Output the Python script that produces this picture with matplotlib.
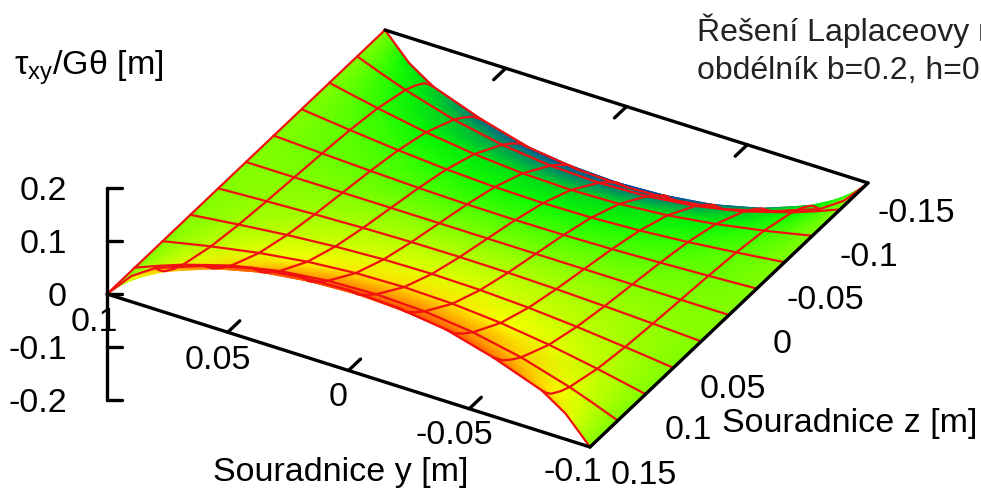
"""Torsion of a rectangular bar: shear stress surface drawn as a gnuplot-style view."""
import matplotlib
matplotlib.use("Agg")
import matplotlib.pyplot as plt
from matplotlib.colors import LinearSegmentedColormap
import numpy as np

y_vals = [0.1, 0.09, 0.08, 0.06, 0.04, 0.02, 0.0, -0.02, -0.04, -0.06, -0.08, -0.09, -0.1]
z_vals = [-0.15, -0.145, -0.14, -0.13, -0.12, -0.09, -0.06, -0.03, 0.0,
          0.03, 0.06, 0.09, 0.12, 0.13, 0.14, 0.145, 0.15]
# rows follow z_vals, columns follow y_vals
tau = [
    [0, -.048, -.078, -.111, -.136, -.148, -.152, -.148, -.136, -.111, -.078, -.048, 0],
    [0, -.0365, -.065, -.1, -.124, -.136, -.14, -.136, -.124, -.1, -.065, -.0365, 0],
    [0, -.0301, -.055, -.0891, -.111, -.1226, -.1268, -.1226, -.111, -.0891, -.055, -.0301, 0],
    [0, -.0226, -.043, -.0742, -.0944, -.1057, -.1094, -.1057, -.0944, -.0742, -.043, -.0226, 0],
    [0, -.0178, -.0345, -.0616, -.0801, -.0906, -.094, -.0906, -.0801, -.0616, -.0345, -.0178, 0],
    [0, -.0097, -.0191, -.0356, -.0479, -.0553, -.0578, -.0553, -.0479, -.0356, -.0191, -.0097, 0],
    [0, -.0053, -.0104, -.0197, -.0268, -.0313, -.0328, -.0313, -.0268, -.0197, -.0104, -.0053, 0],
    [0, -.0024, -.0047, -.0088, -.0121, -.0142, -.0149, -.0142, -.0121, -.0088, -.0047, -.0024, 0],
    [0, 0, 0, 0, 0, 0, 0, 0, 0, 0, 0, 0, 0],
    [0, .0024, .0047, .0088, .0121, .0142, .0149, .0142, .0121, .0088, .0047, .0024, 0],
    [0, .0053, .0104, .0197, .0268, .0313, .0328, .0313, .0268, .0197, .0104, .0053, 0],
    [0, .0097, .0191, .0356, .0479, .0553, .0578, .0553, .0479, .0356, .0191, .0097, 0],
    [0, .0178, .0345, .0616, .0801, .0906, .094, .0906, .0801, .0616, .0345, .0178, 0],
    [0, .0226, .043, .0742, .0944, .1057, .1094, .1057, .0944, .0742, .043, .0226, 0],
    [0, .0301, .055, .0891, .111, .1226, .1268, .1226, .111, .0891, .055, .0301, 0],
    [0, .0365, .065, .1, .124, .136, .14, .136, .124, .1, .065, .0365, 0],
    [0, .048, .078, .111, .136, .148, .152, .148, .136, .111, .078, .048, 0],
]
grid_y = [0.1, 0.08, 0.06, 0.04, 0.02, 0.0, -0.02, -0.04, -0.06, -0.08, -0.1]
grid_z = [-0.15, -0.12, -0.09, -0.06, -0.03, 0.0, 0.03, 0.06, 0.09, 0.12, 0.15]

y_ticks = [0.1, 0.05, 0.0, -0.05, -0.1]
y_labels = ["0.1", "0.05", "0", "-0.05", "-0.1"]
z_ticks = [0.15, 0.1, 0.05, 0.0, -0.05, -0.1, -0.15]
z_labels = ["0.15", "0.1", "0.05", "0", "-0.05", "-0.1", "-0.15"]
v_ticks = [0.2, 0.1, 0.0, -0.1, -0.2]
v_labels = ["0.2", "0.1", "0", "-0.1", "-0.2"]

W, H = 981, 490
FONT = "Liberation Sans"
FS = 24.5

plt.rcParams.update({
    "font.family": FONT,
    "mathtext.fontset": "custom",
    "mathtext.rm": FONT,
    "mathtext.default": "rm",
})

palette = LinearSegmentedColormap.from_list("tau", [
    (0.000, (0.00, 0.22, 0.68)),
    (0.100, (0.00, 0.30, 0.62)),
    (0.200, (0.00, 0.50, 0.45)),
    (0.295, (0.00, 0.78, 0.17)),
    (0.317, (0.00, 0.88, 0.08)),
    (0.381, (0.00, 0.97, 0.02)),
    (0.420, (0.14, 1.00, 0.00)),
    (0.500, (0.50, 1.00, 0.00)),
    (0.550, (0.72, 1.00, 0.00)),
    (0.615, (0.90, 1.00, 0.00)),
    (0.660, (1.00, 1.00, 0.00)),
    (0.705, (1.00, 0.82, 0.00)),
    (0.767, (1.00, 0.62, 0.00)),
    (0.813, (1.00, 0.50, 0.00)),
    (0.867, (1.00, 0.36, 0.00)),
    (1.000, (1.00, 0.24, 0.00)),
])


def project(y, z, v=0.0):
    # view calibrated on the base corners of the box, in image pixels
    y, z, v = np.asarray(y), np.asarray(z), np.asarray(v)
    a = (0.1 - y) / 0.2
    b = (0.15 - z) / 0.3
    return 107 + 483 * a + 278 * b, 294 + 153 * a - 264 * b - 530 * v


fig = plt.figure(figsize=(W / 100, H / 100), dpi=100)
ax = fig.add_axes([0, 0, 1, 1])
ax.set_xlim(0, W)
ax.set_ylim(H, 0)
ax.axis("off")

Y, Z = np.meshgrid(y_vals, z_vals)
V = np.array(tau)
sx, sy = project(Y, Z, V)
ax.pcolormesh(sx, sy, V, shading="gouraud", cmap=palette, vmin=-0.15, vmax=0.15, zorder=1)

# mesh lines on the coarse grid only
red = dict(color="#f01010", lw=1.6, zorder=2, solid_joinstyle="round")
for gy in grid_y:
    i = y_vals.index(gy)
    ax.plot(sx[:, i], sy[:, i], **red)
for gz in grid_z:
    j = z_vals.index(gz)
    ax.plot(sx[j], sy[j], **red)

# box edges
black = dict(color="black", lw=2.4, zorder=3, solid_capstyle="round")
for p, q in [((0.1, 0.15), (-0.1, 0.15)), ((-0.1, 0.15), (-0.1, -0.15)), ((-0.1, -0.15), (0.1, -0.15))]:
    ax.plot(*project([p[0], q[0]], [p[1], q[1]]), **black)

# y ticks, front edge pointing inwards and back edge mirrored
TICK = 0.013
for t in y_ticks[1:-1]:
    ax.plot(*project([t, t], [0.15, 0.15 - TICK]), **black)
    ax.plot(*project([t, t], [-0.15, -0.15 + TICK]), **black)

# vertical axis
vx = 107
vpix = project(0.1, 0.15, np.array(v_ticks))[1]
ax.plot([vx, vx], [vpix[0], vpix[-1]], **black)
for py in vpix:
    ax.plot([vx, vx + 15], [py, py], **black)
for py, lab in zip(vpix, v_labels):
    ax.text(67, py + 3, lab, ha="right", va="center", fontsize=FS, zorder=4)

# tick labels along the two base edges
for t, lab, (px, py) in zip(y_ticks, y_labels,
                            [(94, 322), (218, 360), (338, 397), (454, 435), (573, 472)]):
    ax.text(px, py, lab, ha="center", va="center", fontsize=FS, zorder=4)
for t, lab, (px, py) in zip(z_ticks, z_labels,
                            [(644, 475), (688, 430), (733, 389), (782, 344),
                             (825, 300), (869, 257), (916, 213)]):
    ax.text(px, py, lab, ha="center", va="center", fontsize=FS, zorder=4)

ax.text(213, 472, "Souradnice y [m]", ha="left", va="center", fontsize=FS)
ax.text(722, 423, "Souradnice z [m]", ha="left", va="center", fontsize=FS)
ax.text(14, 68, r"$\tau_{xy}$/G$\theta$ [m]", ha="left", va="center", fontsize=FS)

ax.text(697, 31, "Řešení Laplaceovy r", ha="left", va="center", fontsize=23, color="#222222")
ax.text(697, 71, "obdélník b=0.2, h=0", ha="left", va="center", fontsize=23, color="#222222")

fig.savefig("out.png", dpi=100)
